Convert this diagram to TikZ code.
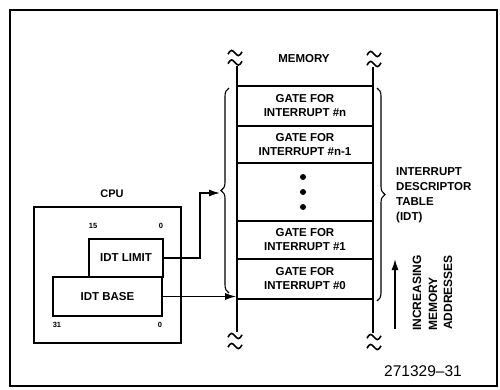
\documentclass[tikz,border=0pt]{standalone}
\usepackage{fontspec}
\setmainfont{Liberation Sans}
\usetikzlibrary{arrows.meta,decorations.pathreplacing}
\newcommand{\mytilde}[2]{\draw[squig] (#1-7,#2+1.2) sin (#1-3.5,#2-2.6) cos (#1,#2) sin (#1+3.5,#2+2.6) cos (#1+7,#2-1.2);}
\begin{document}
\begin{tikzpicture}[x=1pt,y=-1pt,
  lbl/.style={font=\bfseries\fontsize{11.5}{14}\selectfont, align=center, inner sep=0pt},
  gate/.style={draw, line width=1.6pt, minimum width=136pt, inner sep=0pt, lbl},
  regbox/.style={draw, line width=1.6pt, inner sep=0pt, lbl},
  arr/.style={line width=1.4pt, -{Latex[length=11pt,width=7pt]}},
  squig/.style={line width=1.6pt},
  bit/.style={font=\bfseries\fontsize{7.5}{9}\selectfont, inner sep=0pt},
  brc/.style={decorate, decoration={brace, amplitude=8pt}, line width=1.1pt},
  rot/.style={font=\bfseries\fontsize{12}{14}\selectfont, rotate=90, anchor=west, inner sep=0pt},
]
\useasboundingbox (0,0) rectangle (500,389);
% outer frame
\draw[line width=1.4pt] (10,10) rectangle (497,386);

% memory column
\node[gate, minimum height=40pt] (rown)  at (305,106)   {GATE FOR\\INTERRUPT \#n};
\node[gate, minimum height=37pt] (rownm) at (305,144.5) {GATE FOR\\INTERRUPT \#n-1};
\node[gate, minimum height=58pt] (dots)  at (305,192)   {};
\node[gate, minimum height=38pt] (row1)  at (305,240)   {GATE FOR\\INTERRUPT \#1};
\node[gate, minimum height=40pt] (row0)  at (305,279)   {GATE FOR\\INTERRUPT \#0};
\fill (303,177) circle (3);
\fill (303,192) circle (3);
\fill (303,207) circle (3);
\draw[line width=2.2pt] (237,66) -- (237,332);
\draw[line width=2.2pt] (373,67) -- (373,333);
\mytilde{235}{53}
\mytilde{235}{62.5}
\mytilde{374}{54}
\mytilde{374}{64}
\mytilde{235}{336}
\mytilde{235}{346}
\mytilde{374}{337}
\mytilde{374}{347}
\node[lbl] (memlbl) at (304,59) {MEMORY};

% braces
\draw[brc] (229,293) -- (229,88);
\draw[brc] (377,88) -- (377,301);

% IDT label
\node[lbl, align=left, anchor=west, font=\bfseries\fontsize{11.5}{15}\selectfont] (idtlbl) at (396,195.5) {INTERRUPT\\DESCRIPTOR\\TABLE\\(IDT)};

% increasing addresses
\coordinate (ua) at (395,329);
\coordinate (ub) at (395,259);
\draw[arr] (ua) -- (ub);
\node[rot] (inc)  at (417,331) {INCREASING};
\node[rot] (mem2) at (433,331) {MEMORY};
\node[rot] (addr) at (448,330) {ADDRESSES};

% figure number
\node[font=\fontsize{15.5}{17}\selectfont, inner sep=0pt] (fig) at (423,371) {271329--31};

% CPU
\node[lbl, font=\bfseries\fontsize{11}{13}\selectfont] (cpulbl) at (112,194) {CPU};
\node[draw, line width=1.6pt, minimum width=147pt, minimum height=136pt, inner sep=0pt] (cpu) at (107.5,275) {};
\node[regbox, minimum width=74pt, minimum height=38pt] (limit) at (126,258) {IDT LIMIT};
\node[regbox, minimum width=109pt, minimum height=39pt, fill=white] (base) at (107.5,296.5) {IDT BASE};
\node[bit] (b15) at (93,226) {15};
\node[bit] (b0a) at (161,226) {0};
\node[bit] (b31) at (57,325) {31};
\node[bit] (b0b) at (160,325) {0};

% connectors
\coordinate (lbend) at (200,0);
\coordinate (ltip) at (220,193);
\draw[arr] (limit.east) -| (lbend |- ltip) -- (ltip);
\draw[arr] (base.east) -- (base.east -| row0.west);
\end{tikzpicture}
\end{document}
